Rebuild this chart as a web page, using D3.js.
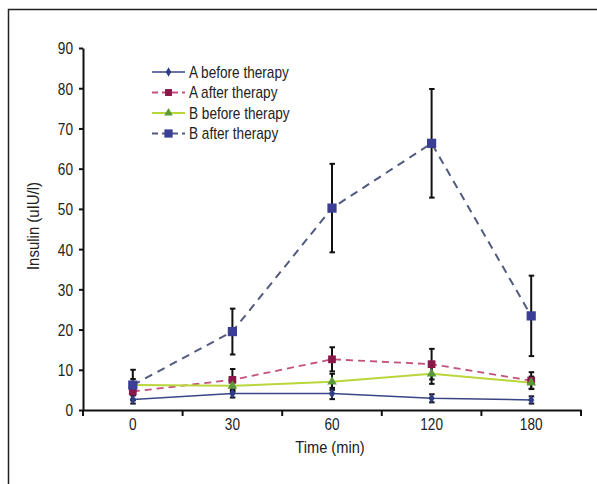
<!DOCTYPE html>
<html>
<head>
<meta charset="utf-8">
<script src="https://cdn.jsdelivr.net/npm/d3@7"></script>
<style>
	body { margin: 0; background: #fff; }
	svg { display: block; font-family: 'Liberation Sans', Arial, sans-serif; }
	.axis path, .axis line { stroke: #111; stroke-width: 2; }
	.axis text { font-size: 17px; fill: #222; }
</style>
</head>
<body>
<svg class="chart" width="597" height="484"></svg>
<script>
const times = ['0', '30', '60', '120', '180'];
const yTicks = [0, 10, 20, 30, 40, 50, 60, 70, 80, 90];
const seriesNames = ['A before therapy', 'A after therapy', 'B before therapy', 'B after therapy'];
const aBefore = [2.6, 4.1, 4.1, 2.9, 2.5];
const aBeforeErr = [1.0, 1.0, 1.4, 1.0, 0.9];
const aAfter = [4.6, 7.5, 12.6, 11.4, 7.3];
const aAfterErr = [2.0, 2.7, 3.0, 3.8, 2.1];
const bBefore = [6.2, 6.0, 7.0, 9.0, 6.8];
const bBeforeErr = [1.5, 1.5, 2.0, 2.5, 1.5];
const bAfter = [6.2, 19.5, 50.2, 66.3, 23.4];
const bAfterErr = [3.8, 5.7, 11.0, 13.5, 10.0];

// squeeze text horizontally to mimic the condensed face of the original
const condense = (sel, k) => sel.each(function() {
	const len = this.getComputedTextLength();
	d3.select(this)
		.attr('textLength', len * k)
		.attr('lengthAdjust', 'spacingAndGlyphs');
});

function startApp() {
	const margin = {top: 48, left: 83, bottom: 74, right: 16};
	const width = 597 - margin.left - margin.right;
	const height = 484 - margin.top - margin.bottom;
	const svg = d3.select('.chart');

	// frame (only left and top edges are visible)
	svg.append('path')
		.attr('d', 'M8.5,484 V9.5 H597')
		.attr('fill', 'none')
		.attr('stroke', '#222')
		.attr('stroke-width', 1.5);

	const chart = svg.append('g')
		.attr('transform', `translate(${margin.left}, ${margin.top})`);
	const xScale = d3.scaleBand().domain(times).range([0, width]).padding(0);
	const yScale = d3.scaleLinear().domain([0, 90]).range([height, 0]);
	const cx = t => xScale(t) + xScale.bandwidth() / 2;

	const series = [
		{name: seriesNames[0], values: aBefore, err: aBeforeErr, line: '#3a4585', width: 1.5, dash: null, marker: 'diamond', fill: '#2f3d86', size: 32},
		{name: seriesNames[1], values: aAfter, err: aAfterErr, line: '#c4507e', width: 1.8, dash: '7,5', marker: 'square', fill: '#8a1748', size: 60},
		{name: seriesNames[2], values: bBefore, err: bBeforeErr, line: '#b9d63a', width: 2, dash: null, marker: 'triangle', fill: '#5a9a3a', size: 40},
		{name: seriesNames[3], values: bAfter, err: bAfterErr, line: '#525a80', width: 2, dash: '8,6', marker: 'square', fill: '#3b3e95', size: 85}
	];
	const symbols = {diamond: d3.symbolDiamond, square: d3.symbolSquare, triangle: d3.symbolTriangle};

	// y axis
	chart.append('g')
		.attr('class', 'axis')
		.call(d3.axisLeft(yScale).tickValues(yTicks).tickSize(4).tickSizeOuter(0).tickPadding(6))
		.selectAll('text')
		.attr('dy', '0.35em')
		.call(condense, 0.8);

	// x axis with ticks at category boundaries
	const xAxis = chart.append('g')
		.attr('class', 'axis')
		.attr('transform', `translate(0, ${height})`)
		.call(d3.axisBottom(xScale).tickSize(0).tickSizeOuter(0).tickPadding(8));
	xAxis.selectAll('text').call(condense, 0.8);
	xAxis.selectAll('.bound')
		.data(d3.range(times.length + 1))
		.enter()
			.append('line')
			.attr('x1', i => i * xScale.step())
			.attr('x2', i => i * xScale.step())
			.attr('y1', 0)
			.attr('y2', 6);

	svg.append('text')
		.attr('x', 330)
		.attr('y', 453)
		.attr('text-anchor', 'middle')
		.attr('font-size', 17)
		.attr('fill', '#222')
		.text('Time (min)')
		.call(condense, 0.86);
	svg.append('text')
		.attr('transform', 'translate(39, 226) rotate(-90)')
		.attr('text-anchor', 'middle')
		.attr('font-size', 17)
		.attr('fill', '#222')
		.text('Insulin (uIU/l)')
		.call(condense, 0.88);

	// error bars
	series.forEach(s => {
		const eb = chart.append('g').attr('stroke', '#111').attr('stroke-width', 2);
		times.forEach((t, i) => {
			const x = cx(t);
			const y0 = yScale(s.values[i] - s.err[i]);
			const y1 = yScale(s.values[i] + s.err[i]);
			eb.append('line').attr('x1', x).attr('x2', x).attr('y1', y0).attr('y2', y1);
			eb.append('line').attr('x1', x - 2.5).attr('x2', x + 3).attr('y1', y0).attr('y2', y0);
			eb.append('line').attr('x1', x - 2.5).attr('x2', x + 3).attr('y1', y1).attr('y2', y1);
		});
	});

	const line = d3.line()
		.x((v, i) => cx(times[i]))
		.y(v => yScale(v));

	series.forEach(s => {
		chart.append('path')
			.datum(s.values)
			.attr('d', line)
			.attr('fill', 'none')
			.attr('stroke', s.line)
			.attr('stroke-width', s.width)
			.attr('stroke-dasharray', s.dash);
	});
	series.forEach(s => {
		chart.selectAll(null)
			.data(s.values)
			.enter()
				.append('path')
				.attr('d', d3.symbol().type(symbols[s.marker]).size(s.size))
				.attr('transform', (v, i) => `translate(${cx(times[i])}, ${yScale(v)})`)
				.attr('fill', s.fill);
	});

	// legend
	const legend = svg.append('g').attr('transform', 'translate(152, 72)');
	const item = legend.selectAll('g')
		.data(series)
		.enter()
			.append('g')
			.attr('transform', (s, i) => `translate(0, ${i * 20.5})`);
	item.append('line')
		.attr('x1', 0).attr('x2', 33)
		.attr('stroke', s => s.line)
		.attr('stroke-width', s => s.width)
		.attr('stroke-dasharray', s => s.dash ? '6,4' : null);
	item.append('path')
		.attr('d', s => d3.symbol().type(symbols[s.marker]).size(s.size * 0.8)())
		.attr('transform', 'translate(16.5, 0)')
		.attr('fill', s => s.fill);
	item.append('text')
		.attr('x', 37)
		.attr('dy', '0.35em')
		.attr('font-size', 17)
		.attr('fill', '#222')
		.text(s => s.name)
		.call(condense, 0.8);
}

window.onload = startApp;
</script>
</body>
</html>
